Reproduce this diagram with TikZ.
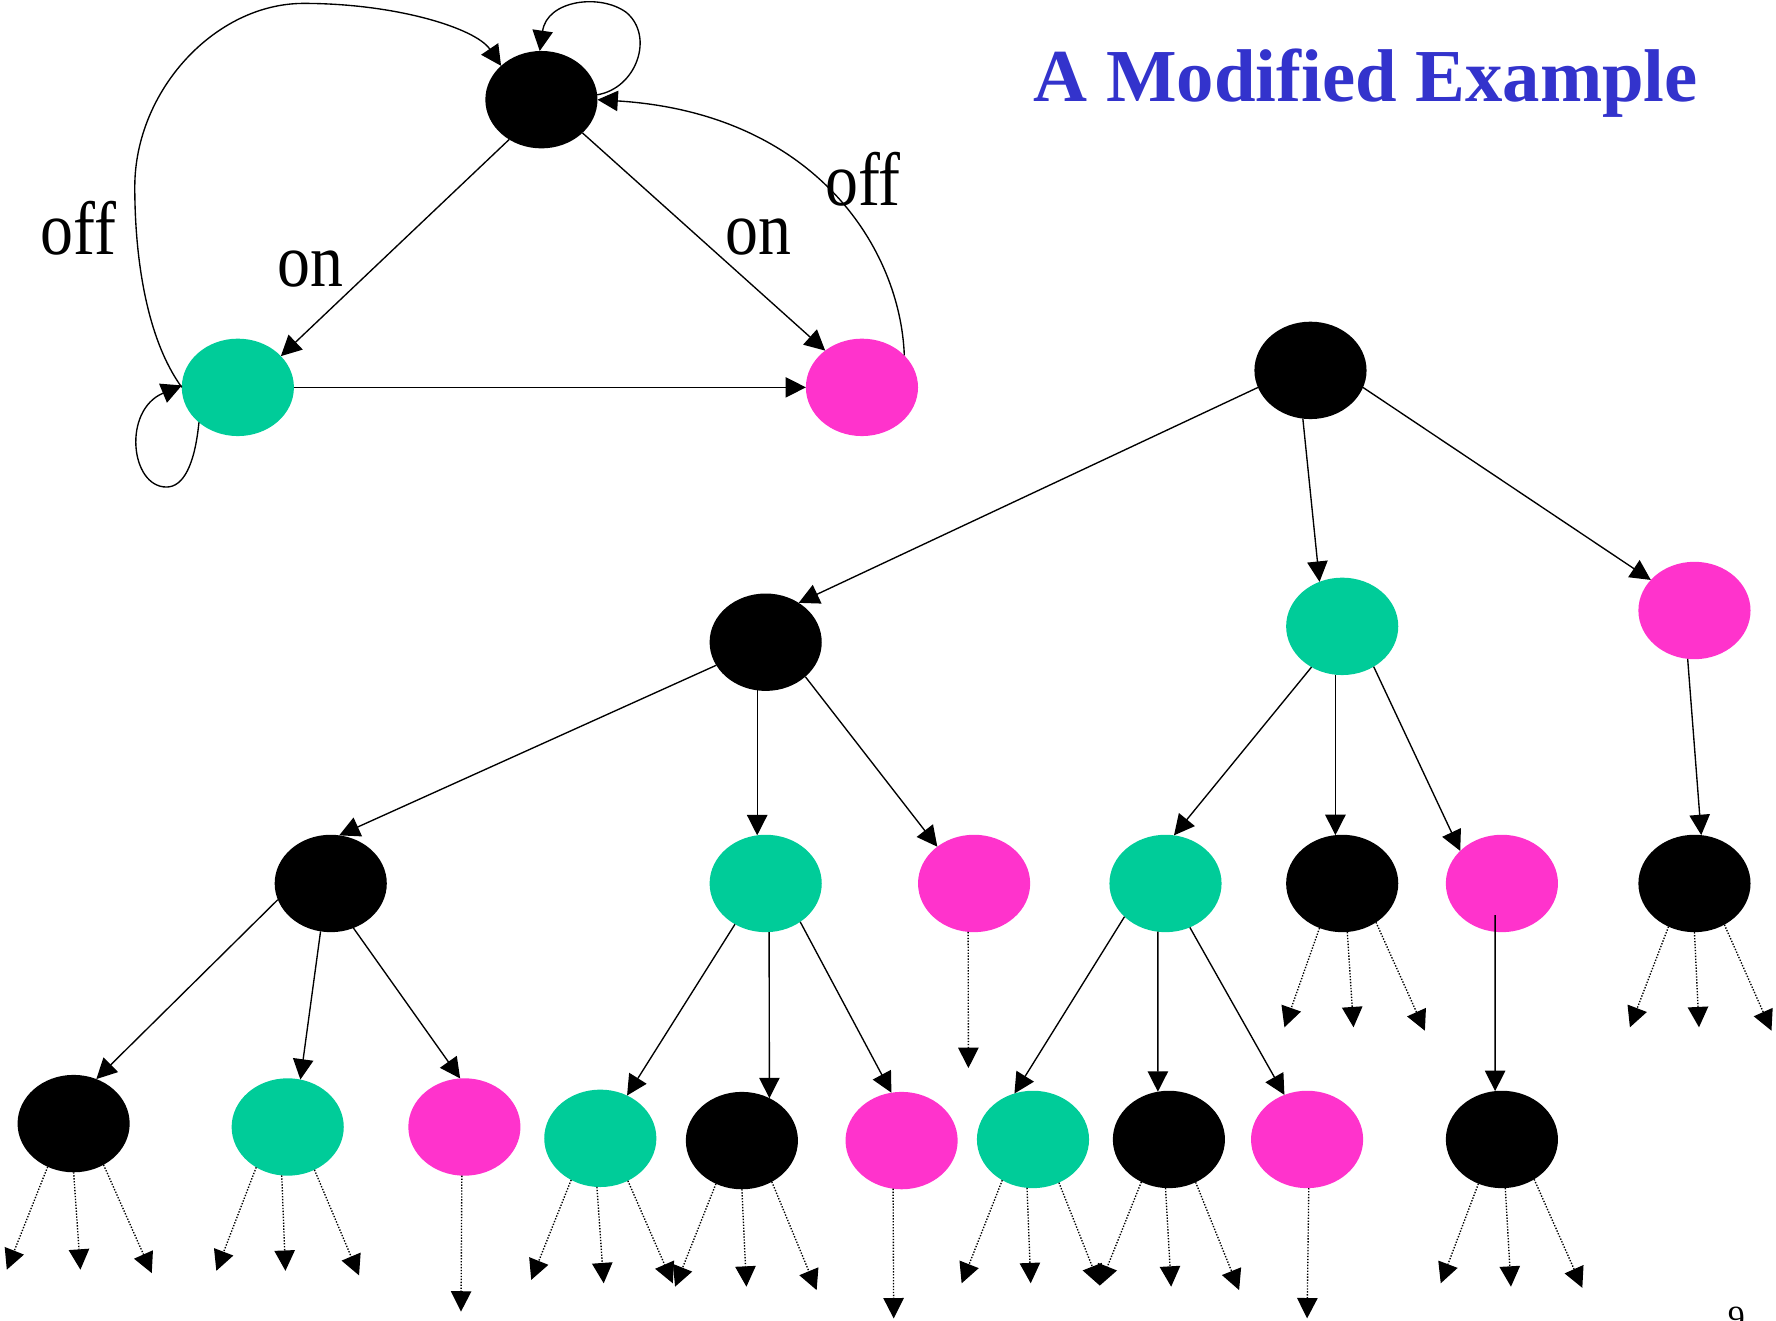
\documentclass[tikz,border=0pt]{standalone}
\usepackage{fontspec}
\setmainfont{Liberation Serif}
\usepackage{graphicx}
\usetikzlibrary{shapes.geometric, arrows.meta}

\definecolor{stgreen}{RGB}{0,204,153}
\definecolor{stpink}{RGB}{255,51,204}
\definecolor{titleblue}{RGB}{51,51,204}

\newcommand{\lblfont}{\fontsize{33.4}{40}\selectfont}
\newcommand{\titlefont}{\fontsize{33}{40}\selectfont\bfseries}
\newcommand{\edgetext}[1]{\scalebox{0.87}[1]{#1}}

\tikzset{
  st/.style={ellipse, minimum width=49.5pt, minimum height=43pt,
             inner sep=0pt, outer sep=0pt, draw=none},
  blk/.style={st, fill=black},
  grn/.style={st, fill=stgreen},
  pnk/.style={st, fill=stpink},
  edge/.style={line width=0.6pt, -{Triangle[length=9pt,width=9pt]}},
  dotedge/.style={edge, dash pattern=on 0.6pt off 0.7pt},
  lbl/.style={font=\lblfont, anchor=base, inner sep=0pt},
}

\begin{document}
\begin{tikzpicture}[x=0.5pt, y=-0.5pt]
\useasboundingbox (0,0) rectangle (1568,1166);

% ---------- state machine ----------
\node[blk] (S0) at (478,88) {};
\node[grn] (S1) at (210,342) {};
\node[pnk] (S2) at (761,342) {};

\draw[edge] (S0.-129) -- (S1.36);
\draw[edge] (S0.-39) -- (S2.135);
\draw[edge] (S1.0) -- (S2.180);
\draw[edge] (S2.37) .. controls (795,220) and (720,100) .. (S0.0);
\draw[edge] (S1.180) .. controls (130,300) and (119,230) .. (119,165)
            .. controls (119,80) and (190,3) .. (268,3)
            .. controls (350,3) and (420,25) .. (S0.140);
\draw[edge] (S0.5) .. controls (562,78) and (578,32) .. (553,11)
            .. controls (530,-6) and (483,0) .. (S0.92);
\draw[edge] (S1.222) .. controls (172,410) and (162,430) .. (147,430)
            .. controls (115,430) and (108,362) .. (S1.178);

\node[lbl] (offL) at (69,225) {\edgetext{off}};
\node[lbl] (onL)  at (274,253) {\edgetext{on}};
\node[lbl] (onR)  at (670,225) {\edgetext{on}};
\node[lbl] (offR) at (762,181) {\edgetext{off}};

\node[font=\titlefont, text=titleblue, anchor=base west, inner sep=0pt]
  (title) at (912,90) {A Modified Example};

% ---------- unfolded tree ----------
\node[blk] (R)  at (1157,327) {};
\node[blk] (A)  at (676,567) {};
\node[grn] (B)  at (1185,553) {};
\node[pnk] (C)  at (1496,539) {};

\node[blk] (A1) at (292,780) {};
\node[grn] (A2) at (676,780) {};
\node[pnk] (A3) at (860,780) {};
\node[grn] (B1) at (1029,780) {};
\node[blk] (B2) at (1185,780) {};
\node[pnk] (B3) at (1326,780) {};
\node[blk] (C1) at (1496,780) {};

\node[blk] (A1a) at (65,992) {};
\node[grn] (A1b) at (254,995) {};
\node[pnk] (A1c) at (410,995) {};
\node[grn] (A2a) at (530,1005) {};
\node[blk] (A2b) at (655,1007) {};
\node[pnk] (A2c) at (796,1007) {};
\node[grn] (B1a) at (912,1006) {};
\node[blk] (B1b) at (1032,1006) {};
\node[pnk] (B1c) at (1154,1006) {};
\node[blk] (B3a) at (1326,1006) {};

\draw[edge] (R.198) -- (A.50);
\draw[edge] (R.-99) -- (B.117);
\draw[edge] (R.-18) -- (C.145);

\draw[edge] (A.-155) -- (A1.80);
\draw[edge] (A.-100) -- (A2.100);
\draw[edge] (A.-41)  -- (A3.135);
\draw[edge] (B.-127) -- (B1.80);
\draw[edge] (B.-98)  -- (B2.98);
\draw[edge] (B.-52)  -- (B3.142);
\draw[edge] (C.-98)  -- (C1.82);

\draw[edge] (A1.-163) -- (A1a.63);
\draw[edge] (A1.-102) -- (A1b.75);
\draw[edge] (A1.-63)  -- (A1c.95);
\draw[edge] (A2.-127) -- (A2a.58);
\draw[edge] (A2.-86)  -- (A2b.57);
\draw[edge] (A2.-48)  -- (A2c.102);
\draw[edge] (B1.-141) -- (B1a.112);
\draw[edge] (B1.-99)  -- (B1b.103);
\draw[edge] (B1.-61)  -- (B1c.117);
\draw[edge] ([shift={(-6,28)}]B3.center) -- (B3a.98);

% unexplored successors: three dotted arrows per state
\foreach \n/\sa/\sb/\sc/\la/\lb/\ma/\mb/\ra/\rb in {
    A1a/-121/-90/-54/-59/129/6/129/69/132,
    A1b/-128/-97/-58/-63/127/-2/127/63/131,
    A2a/-125/-94/-57/-61/125/3/128/64/128,
    A2b/-121/-90/-54/-59/129/4/129/66/132,
    B1a/-127/-97/-59/-63/127/-2/127/59/129,
    B1b/-123/-94/-58/-61/129/2/130/62/133,
    B3a/-118/-86/-51/-54/127/8/130/71/131,
    B2/-117/-84/-49/-51/127/10/127/73/130,
    C1/-121/-90/-54/-57/127/4/127/68/130} {
  \coordinate (\n-l) at ([shift={(\la,\lb)}]\n.center);
  \coordinate (\n-m) at ([shift={(\ma,\mb)}]\n.center);
  \coordinate (\n-r) at ([shift={(\ra,\rb)}]\n.center);
  \draw[dotedge] (\n.\sa) -- (\n-l);
  \draw[dotedge] (\n.\sb) -- (\n-m);
  \draw[dotedge] (\n.\sc) -- (\n-r);
}

% pink states have a single dotted successor
\foreach \n/\s/\dx/\dy in {A3/-97/-5/163, A1c/-93/-3/163,
                           A2c/-100/-7/157, B1c/-88/0/158} {
  \coordinate (\n-d) at ([shift={(\dx,\dy)}]\n.center);
  \draw[dotedge] (\n.\s) -- (\n-d);
}

% page number, partly cut by the lower edge
\begin{scope}
  \clip (0,0) rectangle (1568,1166);
  \node[font=\fontsize{15}{18}\selectfont, anchor=base west, inner sep=0pt]
    (pagenum) at (1525,1174) {9};
\end{scope}
\end{tikzpicture}
\end{document}
